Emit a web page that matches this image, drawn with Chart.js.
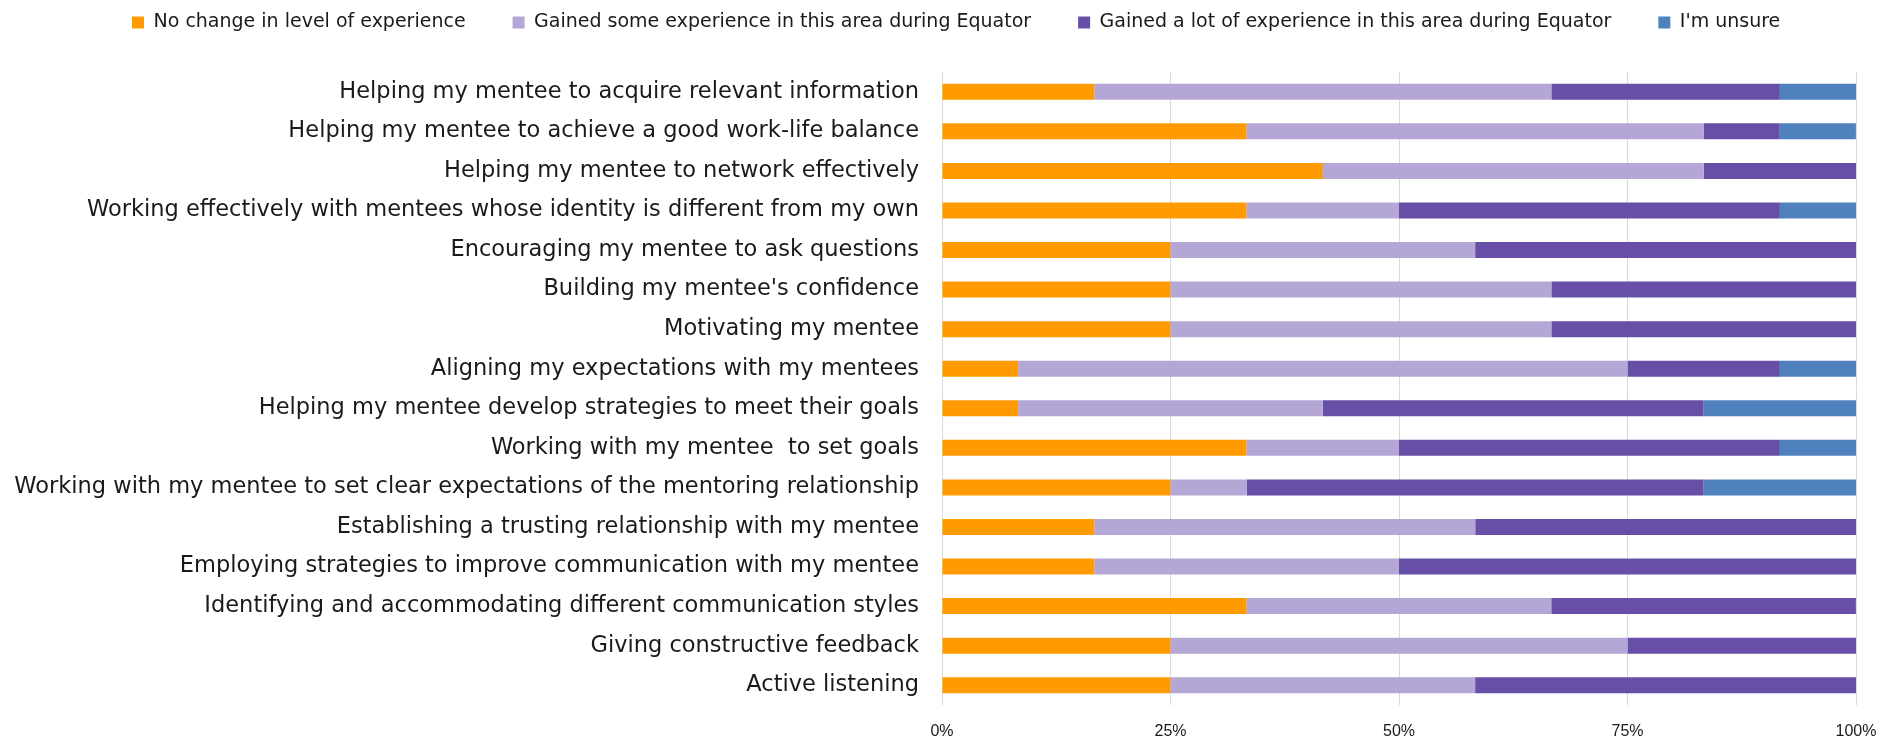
<!DOCTYPE html>
<html>
<head>
<meta charset="UTF-8">
<title>Mentoring experience</title>
<script src="https://cdn.jsdelivr.net/npm/chart.js"></script>
<style>
  html, body { margin: 0; padding: 0; background: #fff; }
  #wrap { width: 1883px; height: 744px; }
</style>
</head>
<body>
<div id="wrap"><canvas id="chart"></canvas></div>
<script>
// categories, top to bottom
const skills = [
  "Helping my mentee to acquire relevant information",
  "Helping my mentee to achieve a good work-life balance",
  "Helping my mentee to network effectively",
  "Working effectively with mentees whose identity is different from my own",
  "Encouraging my mentee to ask questions",
  "Building my mentee's confidence",
  "Motivating my mentee",
  "Aligning my expectations with my mentees",
  "Helping my mentee develop strategies to meet their goals",
  "Working with my mentee  to set goals",
  "Working with my mentee to set clear expectations of the mentoring relationship",
  "Establishing a trusting relationship with my mentee",
  "Employing strategies to improve communication with my mentee",
  "Identifying and accommodating different communication styles",
  "Giving constructive feedback",
  "Active listening"
];

// share of responses (%) per series
const noChange    = [16.67, 33.33, 41.67, 33.33, 25, 25, 25, 8.33, 8.33, 33.33, 25, 16.67, 16.67, 33.33, 25, 25];
const gainedSome  = [50, 50, 41.67, 16.67, 33.33, 41.67, 41.67, 66.67, 33.33, 16.67, 8.33, 41.67, 33.33, 33.33, 50, 33.33];
const gainedALot  = [25, 8.33, 16.67, 41.67, 41.67, 33.33, 33.33, 16.67, 41.67, 41.67, 50, 41.67, 50, 33.33, 25, 41.67];
const unsure      = [8.33, 8.33, 0, 8.33, 0, 0, 0, 8.33, 16.67, 8.33, 16.67, 0, 0, 0, 0, 0];

const seriesNames = [
  "No change in level of experience",
  "Gained some experience in this area during Equator",
  "Gained a lot of experience in this area during Equator",
  "I'm unsure"
];
const colors = ["#FF9B00", "#B4A7D6", "#674EA7", "#4F81BD"];
const xTicks = [0, 25, 50, 75, 100];

// puts the legend where the original has it
const legendPlace = {
  id: 'legendPlace',
  beforeInit(chart) {
    const lg = chart.legend;
    const fit = lg.fit;
    lg.fit = function () { fit.call(this); this.height = 72; };
  },
  afterLayout(chart) {
    const lg = chart.legend;
    const pad = lg.options.labels.padding;
    lg.left = 132 - pad;
    lg.right = 1883;
    lg.top = 13 - pad;
  }
};

const ctx = document.getElementById('chart').getContext('2d');
new Chart(ctx, {
  type: 'bar',
  data: {
    labels: skills,
    datasets: [noChange, gainedSome, gainedALot, unsure].map((d, i) => ({
      label: seriesNames[i],
      data: d,
      backgroundColor: colors[i],
      borderWidth: 0,
      categoryPercentage: 1,
      barPercentage: 0.405
    }))
  },
  options: {
    indexAxis: 'y',
    responsive: true,
    maintainAspectRatio: false,
    animation: false,
    layout: { padding: { left: 0, right: 27, top: 0, bottom: 0 } },
    plugins: {
      legend: {
        position: 'top',
        align: 'start',
        labels: {
          boxWidth: 12,
          boxHeight: 12,
          padding: 47,
          color: '#1a1a1a',
          font: { family: 'DejaVu Sans', size: 19 }
        }
      },
      tooltip: { enabled: false }
    },
    scales: {
      x: {
        stacked: true,
        min: 0,
        max: 100,
        afterBuildTicks: s => { s.ticks = xTicks.map(v => ({ value: v })); },
        afterFit: s => { s.height = 39; },
        grid: { color: '#D9D9D9', lineWidth: 1, drawTicks: true, tickLength: 17, tickColor: 'rgba(0,0,0,0)' },
        border: { display: false },
        ticks: {
          padding: 0,
          color: '#1a1a1a',
          font: { family: 'Liberation Sans', size: 16 },
          callback: v => v + '%'
        }
      },
      y: {
        stacked: true,
        afterFit: s => { s.width = 942; },
        grid: { display: false, drawTicks: false },
        border: { display: false },
        ticks: {
          padding: 23,
          autoSkip: false,
          color: '#1a1a1a',
          font: { family: 'DejaVu Sans', size: 22.5 }
        }
      }
    }
  },
  plugins: [legendPlace]
});
</script>
</body>
</html>
